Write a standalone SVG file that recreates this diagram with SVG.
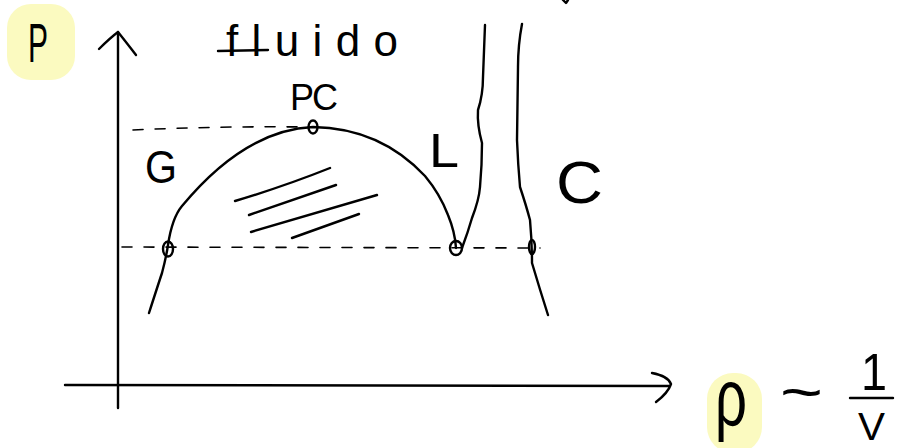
<svg xmlns="http://www.w3.org/2000/svg" width="898" height="448" viewBox="0 0 898 448">
<style>
.s{fill:none;stroke:#000;stroke-width:2.4;stroke-linecap:round;stroke-linejoin:round}
.d{fill:none;stroke:#000;stroke-width:1.6;stroke-linecap:round;stroke-dasharray:10 12}
.t{font-family:"Liberation Sans",Arial,sans-serif;fill:#000;font-weight:normal}
.hl{fill:#fbfac0}
</style>
<rect width="898" height="448" fill="#fff"/>
<g id="highlights">
<rect class="hl" x="7" y="4" width="68" height="76" rx="24"/>
<rect class="hl" x="707" y="373" width="55" height="80" rx="26"/>
</g>
<g id="axes">
<path class="s" d="M118,32 L118,408"/>
<path class="s" d="M99,49 Q110,38 118,32 Q126,42 136,55"/>
<path class="s" d="M65,385 L670,386"/>
<path class="s" d="M652,373 Q668,376 671,384 Q668,393 656,402"/>
</g>
<g id="dashed">
<path class="d" d="M133,130 Q220,126 305,127"/>
<path class="d" d="M122,247 L540,248"/>
</g>
<g id="curves">
<path class="s" d="M149,313 Q158,285 162,273 Q166,258 168,245 Q172,218 182,206 Q245,130 313,127 Q380,128 425,176 Q440,194 448,215 Q455,232 456,248"/>
<path class="s" d="M462,248 Q468,232 472,218 Q479,200 480,187 Q482,165 482,143 Q477,125 478,110 Q483,95 483,77 L485,25"/>
<path class="s" d="M522,24 Q518,45 518,67 L517,140 Q518,165 520,187 Q526,205 530,220 Q532,242 532,263 Q540,290 548,315"/>
<path class="s" d="M563,0 L566,3 L568,0"/>
</g>
<g id="hatch">
<path class="s" d="M235,201 Q285,186 330,168"/>
<path class="s" d="M249,215 L336,185"/>
<path class="s" d="M251,232 L377,195"/>
<path class="s" d="M292,238 L359,214"/>
</g>
<g id="points">
<ellipse class="s" cx="313" cy="127" rx="4.5" ry="6.5"/>
<ellipse class="s" cx="168" cy="249" rx="5" ry="7.5"/>
<ellipse class="s" cx="456" cy="248" rx="6" ry="7"/>
<ellipse class="s" cx="532" cy="247" rx="3" ry="7"/>
</g>
<g id="labels">
<text class="t" x="28" y="62" font-size="56" textLength="20" lengthAdjust="spacingAndGlyphs">P</text>
<path class="s" d="M218,51 L268,50"/>
<text class="t" x="226" y="56" font-size="44" textLength="172" lengthAdjust="spacing">fluido</text>
<text class="t" x="290" y="110" font-size="36" textLength="48" lengthAdjust="spacing">PC</text>
<text class="t" x="145" y="183" font-size="46" textLength="32" lengthAdjust="spacingAndGlyphs">G</text>
<text class="t" x="429" y="167" font-size="48" textLength="30" lengthAdjust="spacingAndGlyphs">L</text>
<text class="t" x="556" y="203" font-size="60" textLength="47" lengthAdjust="spacingAndGlyphs">C</text>
<text class="t" x="715" y="425" font-size="80" textLength="32" lengthAdjust="spacingAndGlyphs">ρ</text>
<text class="t" x="780" y="412" font-size="60" textLength="43" lengthAdjust="spacingAndGlyphs">~</text>
<text class="t" x="861" y="390" font-size="52" textLength="26" lengthAdjust="spacingAndGlyphs">1</text>
<path class="s" d="M850,398 L893,398"/>
<text class="t" x="858" y="440" font-size="38" textLength="27" lengthAdjust="spacingAndGlyphs">V</text>
</g>
</svg>
